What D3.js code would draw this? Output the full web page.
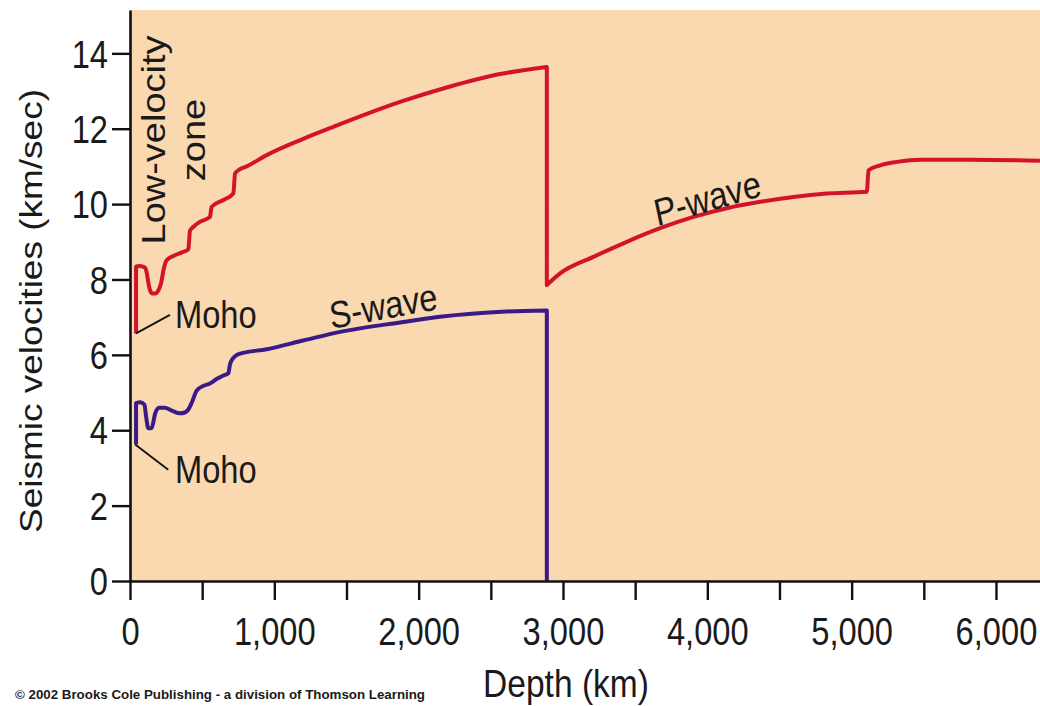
<!DOCTYPE html>
<html>
<head>
<meta charset="utf-8">
<script src="https://cdn.jsdelivr.net/npm/d3@7"></script>
<style>
  body { margin: 0; background: #fff; }
  svg { display: block; font-family: "Liberation Sans", Arial, Helvetica, sans-serif; }
</style>
</head>
<body>
<svg id="chart" width="1040" height="706"></svg>
<script>
// depth (km) and velocity (km/sec)
var pDepth = [42, 42, 60, 100, 115, 128, 140, 155, 175, 195, 215, 235, 254, 300, 360, 404, 416, 440, 485, 554, 566, 647, 716, 728, 760, 808, 947, 1200, 1409, 1871, 2200, 2564, 2888, 2888, 2980, 3211, 3442, 3673, 3904, 4135, 4366, 4597, 4828, 5105, 5117, 5198, 5313, 5475, 5821, 6305];
var pVel = [6.57, 8.34, 8.36, 8.33, 8.2, 7.9, 7.7, 7.63, 7.63, 7.7, 7.9, 8.3, 8.51, 8.62, 8.72, 8.8, 9.3, 9.4, 9.53, 9.66, 9.93, 10.11, 10.28, 10.81, 10.92, 11.0, 11.3, 11.73, 12.05, 12.71, 13.1, 13.45, 13.64, 7.85, 8.16, 8.6, 9.0, 9.36, 9.66, 9.89, 10.06, 10.19, 10.28, 10.33, 10.9, 11.03, 11.12, 11.18, 11.18, 11.15];

var sDepth = [42, 42, 70, 100, 112, 127, 150, 175, 200, 240, 290, 346, 380, 404, 430, 462, 510, 554, 600, 640, 681, 693, 705, 730, 763, 947, 1200, 1455, 1871, 2148, 2610, 2888, 2888];
var sVel = [3.62, 4.72, 4.74, 4.68, 4.35, 4.05, 4.06, 4.45, 4.6, 4.6, 4.52, 4.45, 4.47, 4.55, 4.75, 5.05, 5.18, 5.24, 5.36, 5.44, 5.51, 5.75, 5.86, 5.97, 6.03, 6.15, 6.38, 6.61, 6.86, 7.01, 7.15, 7.18, 0];

var yTicks = [0, 2, 4, 6, 8, 10, 12, 14];
var xTicks = [0, 500, 1000, 1500, 2000, 2500, 3000, 3500, 4000, 4500, 5000, 5500, 6000];
var xLabels = [0, 1000, 2000, 3000, 4000, 5000, 6000];

// Moho leader lines: [depth, velocity] from curve to label
var mohoP = [[42, 6.57], [277, 7.06]];
var mohoS = [[36, 3.62], [265, 2.95]];

var w = 1040;
var h = 706;
var fs = 38;        // font size
var squeeze = 0.86; // text in the original is a bit narrow

var svg = d3.select("#chart");

var x = d3.scaleLinear().domain([0, 6305]).range([130, 1040]);
var y = d3.scaleLinear().domain([0, 15.15]).range([581, 10]);

// peach plot area
svg.append("rect")
    .attr("x", x(0))
    .attr("y", y(15.15))
    .attr("width", x(6305) - x(0))
    .attr("height", y(0) - y(15.15))
    .attr("fill", "#fad8b0");

var line = d3.line()
    .x(function(d) { return x(d[0]); })
    .y(function(d) { return y(d[1]); });

var smooth = d3.line()
    .x(function(d) { return x(d[0]); })
    .y(function(d) { return y(d[1]); })
    .curve(d3.curveMonotoneX);

// smooth between the jumps, straight vertical at the jumps
function wavePath(depths, vels) {
    var pts = d3.zip(depths, vels);
    var runs = [[pts[0]]];
    for (var i = 1; i < pts.length; i++) {
        if (pts[i][0] === pts[i - 1][0]) runs.push([]);
        runs[runs.length - 1].push(pts[i]);
    }
    return runs.map(function(r, i) {
        var s = smooth(r).replace(/Z$/, "");
        return i === 0 ? s : "L" + s.slice(1);
    }).join("");
}

svg.append("path")
    .attr("d", wavePath(pDepth, pVel))
    .attr("fill", "none")
    .attr("stroke", "#d3132a")
    .attr("stroke-width", 4)
    .attr("stroke-linejoin", "round");

svg.append("path")
    .attr("d", wavePath(sDepth, sVel))
    .attr("fill", "none")
    .attr("stroke", "#3a1a86")
    .attr("stroke-width", 4)
    .attr("stroke-linejoin", "round");

// leader lines
[mohoP, mohoS].forEach(function(pts) {
    svg.append("path")
        .attr("d", line(pts))
        .attr("stroke", "#111")
        .attr("stroke-width", 1.8)
        .attr("fill", "none");
});

// axes
var yAxis = svg.append("g")
    .attr("transform", "translate(" + x(0) + ",0)")
    .call(d3.axisLeft(y).tickValues(yTicks).tickSize(18).tickSizeOuter(0));

var xAxis = svg.append("g")
    .attr("transform", "translate(0," + y(0) + ")")
    .call(d3.axisBottom(x).tickValues(xTicks).tickSize(19).tickSizeOuter(0)
        .tickFormat(function(d) { return xLabels.indexOf(d) >= 0 ? d3.format(",")(d) : ""; }));

[yAxis, xAxis].forEach(function(g) {
    g.select(".domain").attr("stroke", "#111").attr("stroke-width", 2.6);
    g.selectAll(".tick line").attr("stroke", "#111").attr("stroke-width", 2.4);
    g.selectAll(".tick text")
        .attr("fill", "#1a1a1a")
        .style("font-size", fs + "px")
        .style("font-family", "Liberation Sans, Arial, sans-serif");
});

yAxis.selectAll(".tick text")
    .attr("x", 0)
    .attr("dy", "0.36em")
    .attr("text-anchor", "end")
    .attr("transform", "translate(-22,0) scale(" + squeeze + ",1)");

xAxis.selectAll(".tick text")
    .attr("y", 0)
    .attr("dy", 0)
    .attr("transform", "translate(0,64) scale(" + squeeze + ",1)");

// text helper: squeeze on the page's x axis, after rotating
function label(txt, tx, ty, rot, anchor, size) {
    svg.append("text")
        .text(txt)
        .attr("transform", "translate(" + tx + "," + ty + ") scale(" + squeeze + ",1) rotate(" + rot + ")")
        .attr("text-anchor", anchor)
        .attr("fill", "#1a1a1a")
        .style("font-size", (size || fs) + "px");
}

label("Seismic velocities (km/sec)", 42, 311, -90, "middle", 37);
label("Depth (km)", 566, 697, 0, "middle", 39);
label("Low-velocity", 165, 140, -90, "middle");
label("zone", 205, 140, -90, "middle");
label("Moho", 175, 328, 0, "start");
label("Moho", 175, 483, 0, "start");
label("S-wave", 385, 319, -9, "middle");
label("P-wave", 710, 211, -14, "middle");

svg.append("text")
    .text("\u00a9 2002 Brooks Cole Publishing - a division of Thomson Learning")
    .attr("x", 15)
    .attr("y", 699)
    .attr("textLength", 410)
    .attr("lengthAdjust", "spacingAndGlyphs")
    .attr("fill", "#1a1a1a")
    .style("font-size", "13.5px")
    .style("font-weight", "bold");
</script>
</body>
</html>
